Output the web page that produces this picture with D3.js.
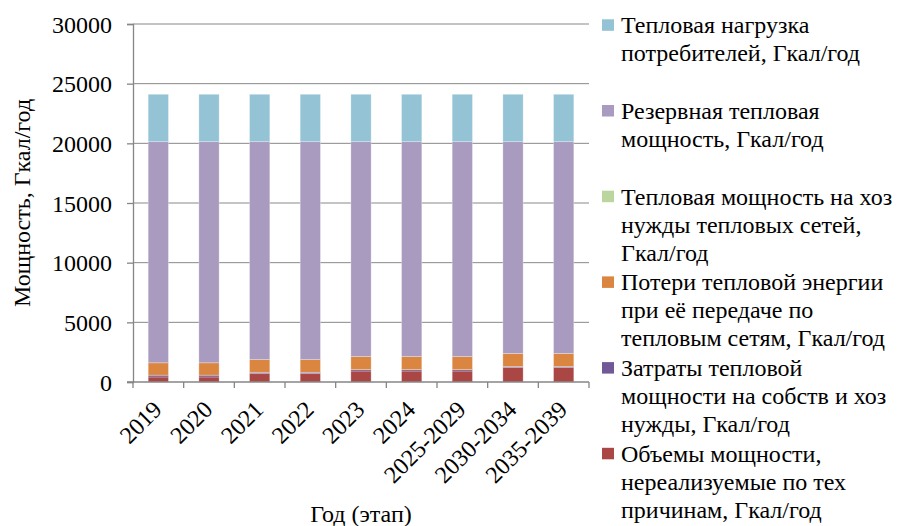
<!DOCTYPE html>
<html>
<head>
<meta charset="utf-8">
<script src="https://cdnjs.cloudflare.com/ajax/libs/d3/7.8.5/d3.min.js"></script>
</head>
<body style="margin:0;background:#fff">
<svg id="chart" width="900" height="526" font-family="serif" font-size="24"></svg>
<script>
// categories (years / stages)
const years = ["2019", "2020", "2021", "2022", "2023", "2024", "2025-2029", "2030-2034", "2035-2039"];

// series values, bottom to top of the stack
const unrealized = [420, 420, 700, 700, 920, 920, 920, 1210, 1210];
const ownNeeds = [150, 150, 110, 110, 120, 120, 120, 90, 90];
const losses = [1040, 1040, 1070, 1070, 1090, 1090, 1090, 1090, 1090];
const netNeeds = [0, 0, 0, 0, 0, 0, 0, 0, 0];
const reserve = [18530, 18530, 18260, 18260, 18010, 18010, 18010, 17750, 17750];
const consumerLoad = [3970, 3970, 3970, 3970, 3970, 3970, 3970, 3970, 3970];

const yTicks = [0, 5000, 10000, 15000, 20000, 25000, 30000];

const FONT = "Liberation Serif";

const series = [
    { key: "unrealized", values: unrealized, color: "#aa4644",
      label: ["Объемы мощности,", "нереализуемые по тех", "причинам, Гкал/год"] },
    { key: "ownNeeds", values: ownNeeds, color: "#715997",
      label: ["Затраты тепловой", "мощности на собств и хоз", "нужды, Гкал/год"] },
    { key: "losses", values: losses, color: "#db8640",
      label: ["Потери тепловой энергии", "при её передаче по", "тепловым сетям, Гкал/год"] },
    { key: "netNeeds", values: netNeeds, color: "#bad59d",
      label: ["Тепловая мощность на хоз", "нужды тепловых сетей,", "Гкал/год"] },
    { key: "reserve", values: reserve, color: "#a99bbf",
      label: ["Резервная тепловая", "мощность, Гкал/год"] },
    { key: "consumerLoad", values: consumerLoad, color: "#93c3d4",
      label: ["Тепловая нагрузка", "потребителей, Гкал/год"] }
];

const margin = { top: 24, left: 133, right: 311, bottom: 144 };
const width = 900 - margin.left - margin.right;
const height = 526 - margin.top - margin.bottom;

const svg = d3.select("#chart");
const g = svg.append("g")
    .attr("transform", `translate(${margin.left},${margin.top})`);

// build rows for the stack
const rows = years.map((y, i) => {
    const r = { year: y };
    series.forEach(s => { r[s.key] = s.values[i]; });
    return r;
});
const stacked = d3.stack().keys(series.map(s => s.key))(rows);

const x = d3.scaleBand().domain(years).range([0, width]).paddingInner(0.6).paddingOuter(0.3);
const xTickScale = d3.scaleBand().domain(years).range([0, width]);
const y = d3.scaleLinear().domain([0, 30000]).range([height, 0]);

// gridlines
g.selectAll(".grid")
    .data(yTicks.filter(t => t > 0))
    .enter()
    .append("line")
    .attr("x1", 0)
    .attr("x2", width)
    .attr("y1", d => y(d))
    .attr("y2", d => y(d))
    .attr("stroke", "#898989")
    .attr("stroke-width", 1);

// bars
stacked.forEach((layer, si) => {
    g.selectAll(".bar-" + si)
        .data(layer)
        .enter()
        .append("rect")
        .attr("x", d => x(d.data.year))
        .attr("width", x.bandwidth())
        .attr("y", d => y(d[1]))
        .attr("height", d => y(d[0]) - y(d[1]))
        .attr("fill", series[si].color)
        .attr("stroke", "rgba(255,255,255,0.35)")
        .attr("stroke-width", 0.8);
});

// y axis
const yAxis = g.append("g")
    .call(d3.axisLeft(y).tickValues(yTicks).tickSize(6).tickPadding(15).tickFormat(d3.format("d")));
yAxis.attr("font-family", FONT).attr("font-size", 24);
yAxis.select(".domain").attr("stroke", "#868686").attr("stroke-width", 1.3);
yAxis.selectAll(".tick line").attr("stroke", "#868686").attr("stroke-width", 1.3);
yAxis.selectAll("text")
    .attr("font-family", FONT)
    .attr("font-size", 24)
    .attr("dy", "0.34em")
    .attr("fill", "#000");

// x axis
const xAxisG = g.append("g").attr("transform", `translate(0,${height})`);
xAxisG.append("line")
    .attr("x1", -6).attr("x2", width)
    .attr("stroke", "#868686").attr("stroke-width", 1.3);
xAxisG.selectAll(".xtick")
    .data(years.concat(["end"]))
    .enter()
    .append("line")
    .attr("x1", (d, i) => i * xTickScale.step())
    .attr("x2", (d, i) => i * xTickScale.step())
    .attr("y1", 0).attr("y2", 6)
    .attr("stroke", "#868686").attr("stroke-width", 1.3);
xAxisG.selectAll(".xlabel")
    .data(years)
    .enter()
    .append("text")
    .attr("text-anchor", "end")
    .attr("transform", d => `translate(${x(d) + x.bandwidth() / 2 + 5},${29}) rotate(-45)`)
    .attr("font-family", FONT)
    .attr("font-size", 24)
    .text(d => d);

// axis titles
g.append("text")
    .attr("transform", "rotate(-90)")
    .attr("x", -height / 2)
    .attr("y", -margin.left + 30)
    .attr("text-anchor", "middle")
    .attr("font-family", FONT)
    .attr("font-size", 24)
    .text("Мощность, Гкал/год");

g.append("text")
    .attr("x", width / 2)
    .attr("y", 522 - margin.top)
    .attr("text-anchor", "middle")
    .attr("font-family", FONT)
    .attr("font-size", 24)
    .text("Год (этап)");

// legend, top entry is the top of the stack
const legend = svg.append("g").attr("transform", "translate(602,0)");
const legendItems = series.slice().reverse();
legendItems.forEach((s, i) => {
    const top = 33.3 + i * 85.7;
    legend.append("rect")
        .attr("x", 0)
        .attr("y", top - 14)
        .attr("width", 12)
        .attr("height", 11.5)
        .attr("fill", s.color);
    const t = legend.append("text")
        .attr("x", 19)
        .attr("y", top)
        .attr("font-family", FONT)
        .attr("font-size", 24);
    s.label.forEach((line, li) => {
        t.append("tspan")
            .attr("x", 19)
            .attr("y", top + li * 28)
            .text(line);
    });
});
</script>
</body>
</html>
